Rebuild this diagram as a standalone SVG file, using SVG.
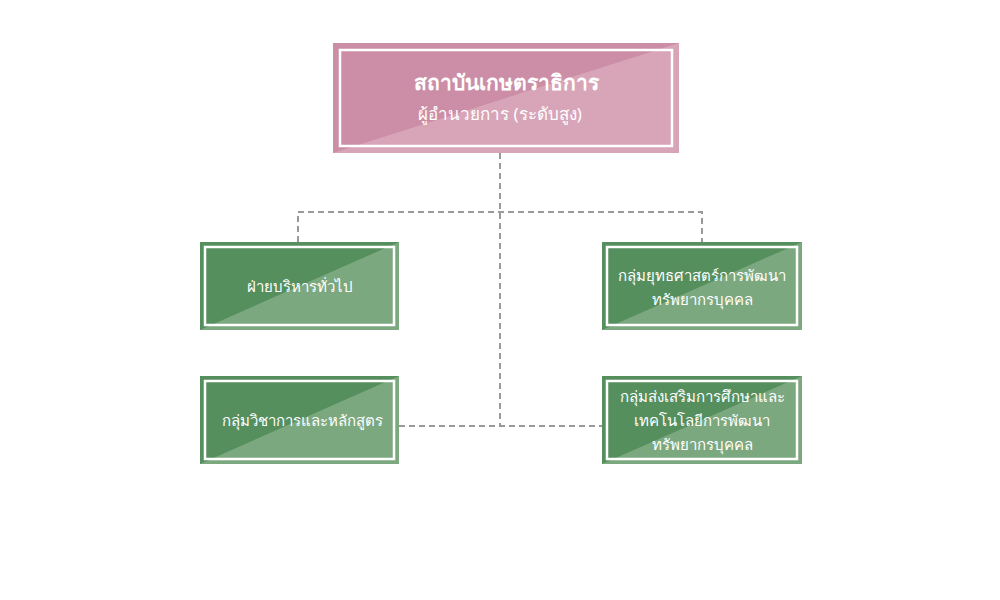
<svg xmlns="http://www.w3.org/2000/svg" width="1000" height="600" viewBox="0 0 1000 600">
<style>
.t{font-family:"Noto Sans","DejaVu Sans",sans-serif;fill:#fff;text-anchor:middle}
.c{stroke:#9a9a9a;stroke-width:2;stroke-dasharray:6,4;fill:none}
.in{fill:none;stroke:#fff;stroke-width:2.5}
</style>
<rect width="1000" height="600" fill="#fff"/>
<g id="connectors">
<path class="c" d="M500,153V426M298,242V212H702V242M399,426H602"/>
</g>
<g id="top">
<rect x="333" y="43" width="346" height="110" fill="#cc8ea6"/>
<polygon points="333,153 679,43 679,153" fill="#dbabbd" opacity="0.8"/>
<rect x="340" y="50" width="332" height="96" class="in"/>
<text class="t" x="506" y="90" font-size="21" font-weight="bold">สถาบันเกษตราธิการ</text>
<text class="t" x="500" y="120" font-size="17">ผู้อำนวยการ (ระดับสูง)</text>
</g>
<g id="n1">
<rect x="200" y="242" width="199" height="88" fill="#568f5e"/>
<polygon points="200,330 399,242 399,330" fill="#82ad85" opacity="0.85"/>
<rect x="205" y="247" width="189" height="78" class="in"/>
<text class="t" x="300" y="292" font-size="15">ฝ่ายบริหารทั่วไป</text>
</g>
<g id="n2">
<rect x="602" y="242" width="200" height="88" fill="#568f5e"/>
<polygon points="602,330 802,242 802,330" fill="#82ad85" opacity="0.85"/>
<rect x="607" y="247" width="190" height="78" class="in"/>
<text class="t" x="702" y="281" font-size="15">กลุ่มยุทธศาสตร์การพัฒนา</text>
<text class="t" x="702" y="305" font-size="15">ทรัพยากรบุคคล</text>
</g>
<g id="n3">
<rect x="200" y="376" width="199" height="88" fill="#568f5e"/>
<polygon points="200,464 399,376 399,464" fill="#82ad85" opacity="0.85"/>
<rect x="205" y="381" width="189" height="78" class="in"/>
<text class="t" x="302" y="426" font-size="15">กลุ่มวิชาการและหลักสูตร</text>
</g>
<g id="n4">
<rect x="602" y="376" width="200" height="88" fill="#568f5e"/>
<polygon points="602,464 802,376 802,464" fill="#82ad85" opacity="0.85"/>
<rect x="607" y="381" width="190" height="78" class="in"/>
<text class="t" x="702" y="402" font-size="15">กลุ่มส่งเสริมการศึกษาและ</text>
<text class="t" x="702" y="426" font-size="15">เทคโนโลยีการพัฒนา</text>
<text class="t" x="702" y="450" font-size="15">ทรัพยากรบุคคล</text>
</g>
</svg>
